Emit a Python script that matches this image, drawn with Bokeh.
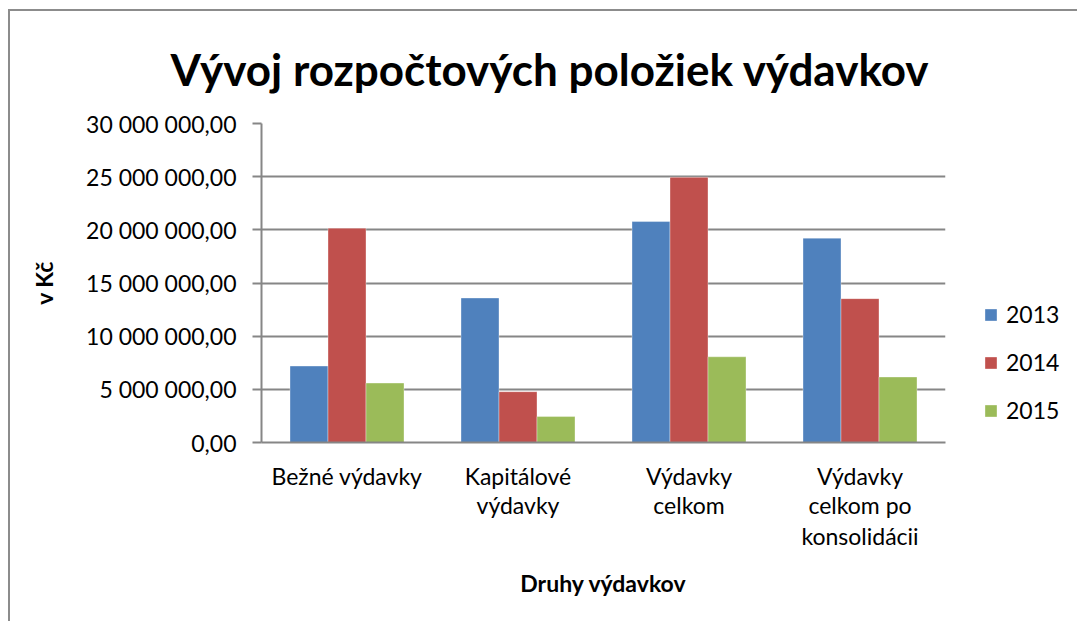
from bokeh.plotting import figure
from bokeh.models import (ColumnDataSource, FixedTicker, Legend, LegendItem,
                          Range1d, LinearAxis)
from bokeh.transform import dodge
from bokeh.embed import file_html
from bokeh.resources import INLINE

categories = ["Bežné výdavky", "Kapitálové výdavky", "Výdavky celkom",
              "Výdavky celkom po konsolidácii"]
category_labels = ["Bežné výdavky", "Kapitálové\nvýdavky", "Výdavky\ncelkom",
                   "Výdavky\ncelkom po\nkonsolidácii"]
years = ["2013", "2014", "2015"]
v2013 = [7190000, 13590000, 20780000, 19220000]
v2014 = [20160000, 4780000, 24940000, 13530000]
v2015 = [5590000, 2440000, 8060000, 6160000]
y_ticks = [0, 5000000, 10000000, 15000000, 20000000, 25000000, 30000000]
y_tick_labels = ["0,00", "5 000 000,00", "10 000 000,00", "15 000 000,00",
                 "20 000 000,00", "25 000 000,00", "30 000 000,00"]
colors = ["#4F81BD", "#C0504D", "#9BBB59"]

FONT = "Lato"
GRID = "#868686"
Y_MAX = 30000000

# category i occupies the slot [i, i+1] of the x scale
centers = [i + 0.5 for i in range(len(categories))]
source = ColumnDataSource(dict(cat=categories, pos=centers,
                               y2013=v2013, y2014=v2014, y2015=v2015))

p = figure(x_range=Range1d(0, len(categories)),
           y_range=Range1d(0, Y_MAX),
           frame_width=684, frame_height=319,
           min_border_left=251, min_border_right=125,
           min_border_top=111, min_border_bottom=179,
           x_axis_location=None,
           output_backend="svg", toolbar_location=None)
p.styles = {"border-left": "2px solid #8c8c8c", "border-top": "2px solid #8c8c8c",
            "margin-left": "8px", "margin-top": "9px"}

bw = 1 / 4.5
renderers = []
for i, (col, c) in enumerate(zip(["y2013", "y2014", "y2015"], colors)):
    r = p.vbar(x=dodge("pos", (i - 1) * bw), top=col, width=bw,
               source=source, fill_color=c, line_color="white", line_alpha=0.35, line_width=1)
    renderers.append(r)

p.outline_line_color = None
p.background_fill_color = "white"
p.border_fill_color = "white"

# title
p.title.text = "Vývoj rozpočtových položiek výdavkov"
p.title.align = "left"
p.title.offset = -91
p.title.text_font = FONT
p.title.text_font_size = "44px"
p.title.text_font_style = "bold"
p.title.text_color = "black"
p.title.standoff = 58

# y axis
yax = p.yaxis[0]
yax.ticker = FixedTicker(ticks=y_ticks)
yax.major_label_overrides = {t: l for t, l in zip(y_ticks, y_tick_labels)}
yax.major_label_text_font = FONT
yax.major_label_text_font_size = "23px"
yax.major_label_text_color = "black"
yax.major_label_standoff = 16
yax.major_tick_out = 9
yax.major_tick_in = 0
yax.minor_tick_out = 0
yax.minor_tick_in = 0
yax.major_tick_line_color = GRID
yax.major_tick_line_width = 2
yax.axis_line_color = GRID
yax.axis_line_width = 2
yax.axis_label = "v Kč"
yax.axis_label_text_font = FONT
yax.axis_label_text_font_size = "23px"
yax.axis_label_text_font_style = "bold"
yax.axis_label_text_color = "black"
yax.axis_label_standoff = 25

# x axis: one stacked axis per text line of the category labels
split_labels = [lab.split("\n") for lab in category_labels]
n_lines = max(len(s) for s in split_labels)
for k in range(n_lines):
    ax = LinearAxis(
        ticker=FixedTicker(ticks=centers, minor_ticks=[]),
        major_label_overrides={c: (s[k] if k < len(s) else "")
                               for c, s in zip(centers, split_labels)},
        major_label_text_font=FONT, major_label_text_font_size="23px",
        major_label_text_color="black",
        major_label_standoff=19 if k == 0 else (-2 if k == 1 else 0),
        major_tick_out=0, major_tick_in=0, minor_tick_out=0, minor_tick_in=0,
        axis_line_color=GRID if k == 0 else None, axis_line_width=2)
    if k == n_lines - 1:
        ax.axis_label = "Druhy výdavkov"
        ax.axis_label_text_font = FONT
        ax.axis_label_text_font_size = "23px"
        ax.axis_label_text_font_style = "bold"
        ax.axis_label_text_color = "black"
        ax.axis_label_standoff = 16
    p.add_layout(ax, "below")

p.xgrid.grid_line_color = None
p.ygrid.grid_line_color = GRID
p.ygrid.grid_line_width = 2

legend = Legend(items=[LegendItem(label=y, renderers=[r]) for y, r in zip(years, renderers)],
                location=(38, 18), orientation="vertical",
                label_text_font=FONT, label_text_font_size="23px",
                label_text_color="black",
                glyph_width=15, glyph_height=15, label_standoff=8,
                spacing=20, padding=0, margin=0,
                border_line_color=None, background_fill_alpha=0)
p.add_layout(legend, "right")

open("out.html", "w").write(file_html(p, INLINE))
